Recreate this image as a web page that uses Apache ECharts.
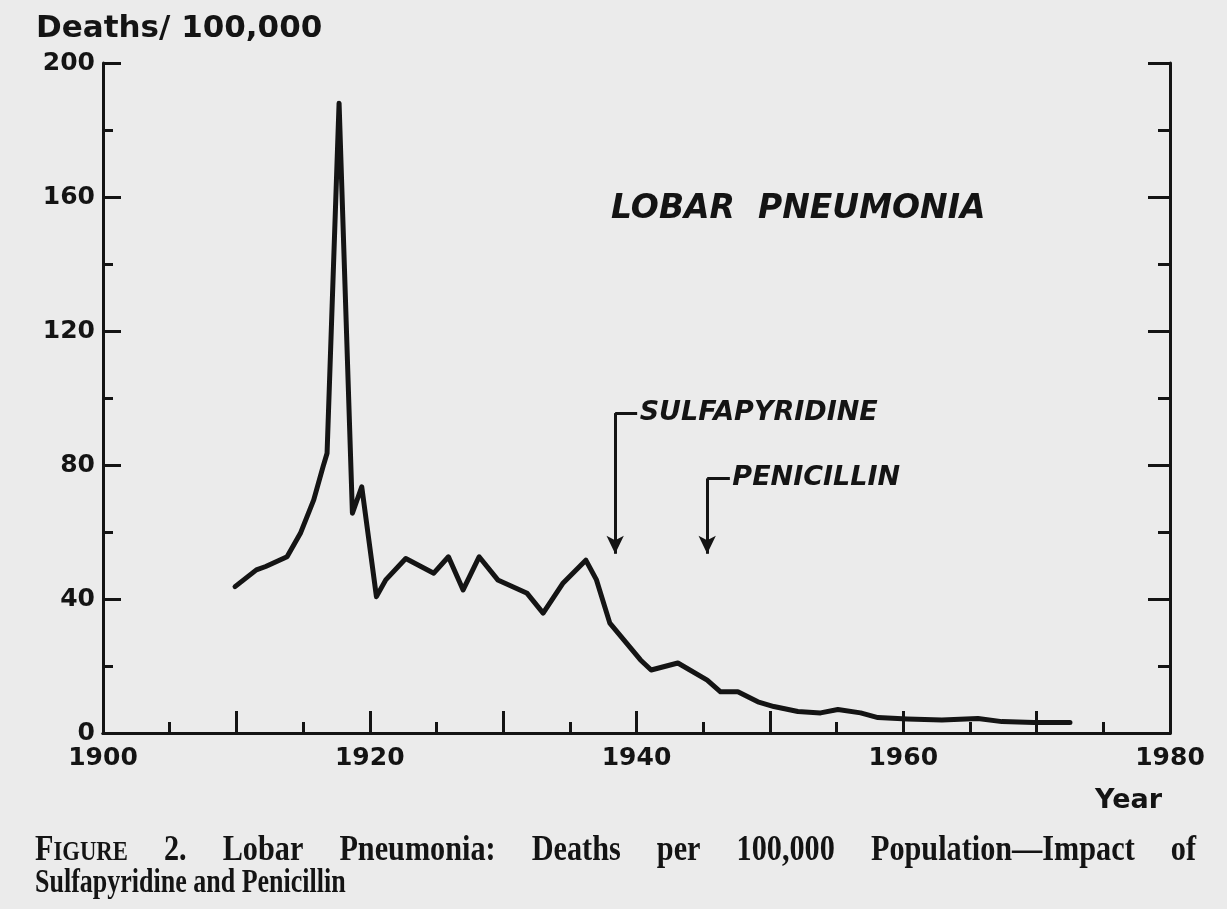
<!DOCTYPE html>
<html>
<head>
<meta charset="utf-8">
<title>Lobar Pneumonia</title>
<script src="https://cdn.jsdelivr.net/npm/echarts@6/dist/echarts.min.js"></script>
<style>
    html, body { margin: 0; padding: 0; background: #ebebeb; }
    #chart-id { width: 1227px; height: 909px; }
</style>
</head>
<body>
<div id="chart-id"></div>
<script>
// values (deaths per 100,000)
var years = [1909.9, 1911.5, 1912.2, 1913.8, 1914.8, 1915.8, 1916.5, 1916.8, 1917.7, 1918.7, 1919.4,
    1920.5, 1921.2, 1922.7, 1924.8, 1925.9, 1927.0, 1928.2, 1929.6, 1931.8, 1933.0, 1934.5, 1936.2,
    1937.0, 1938.0, 1940.3, 1941.1, 1943.1, 1945.3, 1946.3, 1947.6, 1949.1, 1950.3, 1952.1, 1953.8,
    1955.1, 1956.8, 1958.1, 1960.3, 1962.9, 1965.6, 1967.4, 1969.8, 1972.5];
var deaths = [43.7, 48.7, 49.7, 52.6, 59.6, 69.6, 79.5, 83.5, 188, 65.6, 73.5,
    40.7, 45.7, 52.1, 47.7, 52.6, 42.7, 52.6, 45.7, 41.7, 35.8, 44.8, 51.6,
    45.7, 32.8, 21.8, 18.8, 20.9, 15.8, 12.3, 12.3, 9.3, 7.9, 6.4, 6.0,
    7.0, 6.0, 4.6, 4.2, 3.9, 4.3, 3.4, 3.1, 3.1];

var xLabels = [1900, 1920, 1940, 1960, 1980];
var yLabels = [0, 40, 80, 120, 160, 200];

// drug introduction arrows
var drugNames = ['SULFAPYRIDINE', 'PENICILLIN'];
var drugYears = [1938.4, 1945.3];
var drugTop = [95.5, 76];
var drugTip = [53.5, 53.5];
var drugStub = [1.65, 1.7];

var captionLine1 = ['FIGURE', '2.', 'Lobar', 'Pneumonia:', 'Deaths', 'per', '100,000', 'Population\u2014Impact', 'of'];
var captionLine2 = 'Sulfapyridine and Penicillin';

var ink = '#141414';
var sansFont = 'DejaVu Sans';
var serifFont = 'Liberation Serif';

var dom = document.getElementById('chart-id');
var myChart = echarts.init(dom, null, { renderer: 'canvas' });

var lineData = [];
for (var i = 0; i < years.length; i++) lineData.push([years[i], deaths[i]]);

var arrowLines = [];
var drugPoints = [];
for (var i = 0; i < drugNames.length; i++) {
    arrowLines.push([
        { coord: [drugYears[i], drugTop[i]], symbol: 'none' },
        { coord: [drugYears[i], drugTip[i]], symbol: 'arrow' }
    ]);
    arrowLines.push([
        { coord: [drugYears[i], drugTop[i]], symbol: 'none' },
        { coord: [drugYears[i] + drugStub[i], drugTop[i]], symbol: 'none' }
    ]);
    drugPoints.push({
        coord: [drugYears[i] + drugStub[i], drugTop[i]],
        label: { formatter: drugNames[i] }
    });
}

// measure caption words so line one can be justified
var measureCtx = document.createElement('canvas').getContext('2d');
function textWidth(str, size) {
    measureCtx.font = 'bold ' + size + 'px "' + serifFont + '"';
    return measureCtx.measureText(str).width;
}
var capSize = 28;
var capSmall = 21;
var capSize2 = 26;
var capStretchX = 1.08;
var capLeft = 35, capRight = 1196;
var widths = [];
var total = 0;
for (var i = 0; i < captionLine1.length; i++) {
    var w;
    if (captionLine1[i] == 'FIGURE') w = textWidth('F', capSize) + textWidth('IGURE', capSmall);
    else w = textWidth(captionLine1[i], capSize);
    w = w * capStretchX;
    widths.push(w);
    total += w;
}
var gap = (capRight - capLeft - total) / (captionLine1.length - 1);

var graphics = [];
var cx = capLeft;
for (var i = 0; i < captionLine1.length; i++) {
    var style = {
        fill: ink,
        fontFamily: serifFont,
        fontWeight: 'bold',
        fontSize: capSize,
        verticalAlign: 'middle',
        textVerticalAlign: 'middle',
        align: 'left'
    };
    if (captionLine1[i] == 'FIGURE') {
        style.text = '{a|F}{b|IGURE}';
        style.rich = {
            a: { fontSize: capSize, fontFamily: serifFont, fontWeight: 'bold', fill: ink },
            b: { fontSize: capSmall, fontFamily: serifFont, fontWeight: 'bold', fill: ink, padding: [4, 0, 0, 0] }
        };
    } else {
        style.text = captionLine1[i];
    }
    graphics.push({ type: 'text', x: cx, y: 851, scaleX: capStretchX, scaleY: 1.25, style: style });
    cx += widths[i] + gap;
}
graphics.push({
    type: 'text', x: capLeft, y: 883, scaleY: 1.3,
    style: {
        text: captionLine2, fill: ink, fontFamily: serifFont, fontWeight: 'bold', fontSize: capSize2,
        verticalAlign: 'middle', textVerticalAlign: 'middle', align: 'left'
    }
});
graphics.push({
    type: 'text', x: 36, y: 29,
    style: {
        text: 'Deaths/ 100,000', fill: ink, fontFamily: sansFont, fontSize: 31, fontWeight: 'bold',
        verticalAlign: 'middle', textVerticalAlign: 'middle', align: 'left'
    }
});
graphics.push({
    type: 'text', x: 1162, y: 801,
    style: {
        text: 'Year', fill: ink, fontFamily: sansFont, fontSize: 27, fontWeight: 'bold',
        verticalAlign: 'middle', textVerticalAlign: 'middle', align: 'right', textAlign: 'right'
    }
});
graphics.push({
    type: 'text', x: 611, y: 209,
    style: {
        text: 'LOBAR  PNEUMONIA', fill: ink, fontFamily: sansFont, fontSize: 33, fontStyle: 'italic',
        fontWeight: 'bold',
        verticalAlign: 'middle', textVerticalAlign: 'middle', align: 'left'
    }
});

var axisLine = { show: true, lineStyle: { color: ink, width: 3 } };

var option = {
    backgroundColor: '#ebebeb',
    animation: false,
    grid: { left: 103, right: 57, top: 63, bottom: 176 },
    xAxis: [
        {
            type: 'value',
            min: 1900,
            max: 1980,
            interval: 10,
            axisLine: axisLine,
            axisTick: { show: true, inside: true, length: 22, lineStyle: { color: ink, width: 3 } },
            minorTick: { show: true, splitNumber: 2, length: 11, lineStyle: { color: ink, width: 3 } },
            splitLine: { show: false },
            axisLabel: {
                margin: 13,
                color: ink,
                fontFamily: sansFont,
                fontWeight: 'bold',
                fontSize: 25,
                formatter: function (v) {
                    return xLabels.indexOf(v) >= 0 ? String(v) : '';
                }
            }
        },
        {
            type: 'value',
            position: 'top',
            min: 1900,
            max: 1980,
            axisLine: axisLine,
            axisTick: { show: false },
            axisLabel: { show: false },
            splitLine: { show: false }
        }
    ],
    yAxis: [
        {
            type: 'value',
            min: 0,
            max: 200,
            interval: 40,
            axisLine: axisLine,
            axisTick: { show: true, inside: true, length: 18, lineStyle: { color: ink, width: 3 } },
            minorTick: { show: true, splitNumber: 2, length: 10, lineStyle: { color: ink, width: 3 } },
            splitLine: { show: false },
            axisLabel: {
                margin: 8,
                color: ink,
                fontFamily: sansFont,
                fontWeight: 'bold',
                fontSize: 25,
                formatter: function (v) {
                    return yLabels.indexOf(v) >= 0 ? String(v) : '';
                }
            }
        },
        {
            type: 'value',
            position: 'right',
            min: 0,
            max: 200,
            interval: 40,
            axisLine: axisLine,
            axisTick: { show: true, inside: true, length: 22, lineStyle: { color: ink, width: 3 } },
            minorTick: { show: true, splitNumber: 2, length: 12, lineStyle: { color: ink, width: 3 } },
            axisLabel: { show: false },
            splitLine: { show: false }
        }
    ],
    series: [
        {
            name: 'Lobar Pneumonia',
            type: 'line',
            xAxisIndex: 0,
            yAxisIndex: 0,
            data: lineData,
            showSymbol: false,
            smooth: false,
            lineStyle: { color: ink, width: 5, cap: 'round', join: 'round' },
            markLine: {
                silent: true,
                symbol: ['none', 'arrow'],
                symbolSize: [13, 18],
                label: { show: false },
                lineStyle: { color: ink, width: 3, type: 'solid' },
                emphasis: { disabled: true },
                data: arrowLines
            },
            markPoint: {
                silent: true,
                symbol: 'circle',
                symbolSize: 1,
                itemStyle: { color: 'rgba(0,0,0,0)' },
                label: {
                    show: true,
                    position: 'right',
                    distance: 2,
                    color: ink,
                    fontFamily: sansFont,
                    fontSize: 27,
                    fontStyle: 'italic',
                    fontWeight: 'bold'
                },
                data: drugPoints
            }
        }
    ],
    graphic: graphics
};

myChart.setOption(option);
</script>
</body>
</html>
